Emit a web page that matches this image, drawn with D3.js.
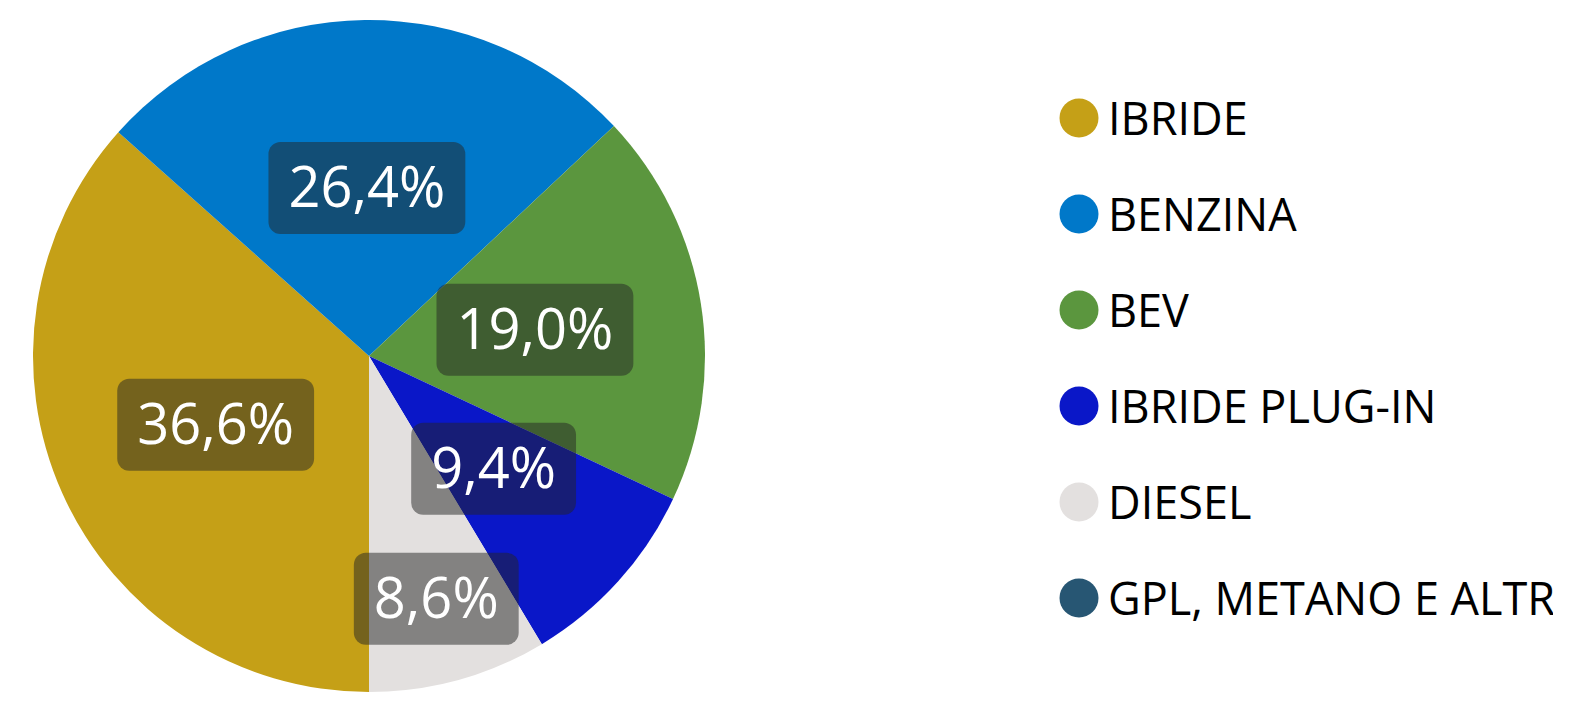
<!DOCTYPE html>
<html>
<head>
<meta charset="utf-8">
<script src="https://cdn.jsdelivr.net/npm/d3@7"></script>
<style>
  body { margin: 0; background: #fff; }
  svg { display: block; font-family: "Open Sans", "Noto Sans", sans-serif; }
</style>
</head>
<body>
<svg width="1588" height="702"></svg>
<script>
var svg = d3.select("svg"),
    width = +svg.attr("width"),
    height = +svg.attr("height");

// Data
var categories = ["IBRIDE", "BENZINA", "BEV", "IBRIDE PLUG-IN", "DIESEL", "GPL, METANO E ALTRI"];
var values = [36.6, 26.4, 19.0, 9.4, 8.6, 0];
var colors = ["#C5A017", "#0078C9", "#5B963E", "#0A17C8", "#E3E0DF", "#275673"];

var fmt = function (v) { return d3.format(".1f")(v).replace(".", ",") + "%"; };

// Pie layout: starts at 6 o'clock, runs clockwise
var cx = 369, cy = 356, radius = 336;
var pie = d3.pie()
    .sort(null)
    .startAngle(Math.PI)
    .endAngle(3 * Math.PI)
    .value(function (d) { return d.value; });
var arc = d3.arc().innerRadius(0).outerRadius(radius);

var data = categories.map(function (c, i) { return { name: c, value: values[i], color: colors[i] }; });
var arcs = pie(data);

var g = svg.append("g").attr("transform", "translate(" + cx + "," + cy + ")");

g.selectAll("path.slice")
    .data(arcs)
    .enter().append("path")
    .attr("class", "slice")
    .attr("d", arc)
    .attr("fill", function (d) { return d.data.color; });

// Labels, pushed outward along the bisector if they would overlap a previous one
var boxH = 92, padX = 20, placed = [];
var labels = g.selectAll("g.label")
    .data(arcs.filter(function (d) { return d.value > 0; }))
    .enter().append("g")
    .attr("class", "label");

labels.each(function (d) {
    var sel = d3.select(this);
    var t = sel.append("text")
        .attr("text-anchor", "middle")
        .attr("fill", "#fff")
        .attr("font-size", 56)
        .text(fmt(d.value));
    var w = t.node().getComputedTextLength() + padX * 2;
    var mid = (d.startAngle + d.endAngle) / 2;
    var r = radius * 0.5, x, y;
    for (var k = 0; k < 4; k++) {
        x = Math.sin(mid) * r;
        y = -Math.cos(mid) * r;
        var hit = placed.some(function (p) {
            return Math.abs(p.x - x) < (p.w + w) / 2 && Math.abs(p.y - y) < boxH;
        });
        if (!hit) break;
        r += radius * 0.25;
    }
    placed.push({ x: x, y: y, w: w });
    sel.insert("rect", "text")
        .attr("x", x - w / 2)
        .attr("y", y - boxH / 2)
        .attr("width", w)
        .attr("height", boxH)
        .attr("rx", 12)
        .attr("fill", "rgba(35,35,35,0.5)");
    t.attr("x", x).attr("y", y + 19);
});

// Legend (clipped on the right like the original)
svg.append("clipPath").attr("id", "legendClip")
    .append("rect").attr("x", 1000).attr("y", 0).attr("width", 553).attr("height", height);

var legend = svg.append("g")
    .attr("clip-path", "url(#legendClip)")
  .append("g")
    .attr("transform", "translate(1079,118)");

var item = legend.selectAll("g")
    .data(data)
    .enter().append("g")
    .attr("transform", function (d, i) { return "translate(0," + i * 96 + ")"; });

item.append("circle")
    .attr("r", 19.5)
    .attr("fill", function (d) { return d.color; });

item.append("text")
    .attr("x", 29)
    .attr("y", 17)
    .attr("font-size", 45)
    .attr("fill", "#000")
    .text(function (d) { return d.name; });
</script>
</body>
</html>
